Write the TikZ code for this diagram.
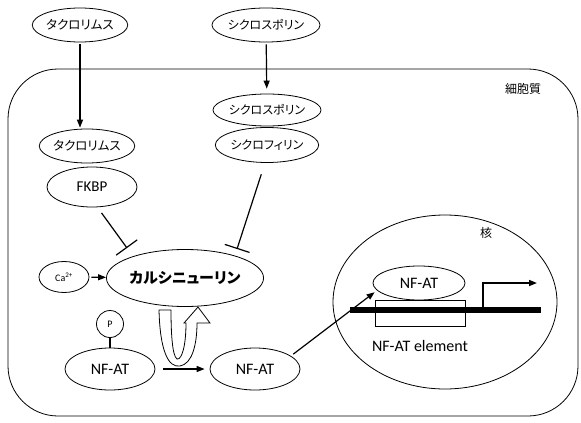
\documentclass[tikz,border=0pt]{standalone}
\usepackage{fontspec}
\setmainfont{Carlito}
\newfontfamily\jp[RawFeature=+palt]{Noto Sans CJK JP}
\usetikzlibrary{shapes.geometric,arrows.meta,positioning}

\begin{document}
\begin{tikzpicture}[x=1pt, y=-1pt,
    mol/.style={draw, ellipse, line width=0.8pt, inner sep=0pt, minimum width=90pt, minimum height=34pt},
    act/.style={line width=1.2pt, -{Triangle[length=8pt, width=6pt]}},
    inhibit/.style={line width=1.2pt, -{Bar[width=26pt, line width=1.2pt]}}]
  \useasboundingbox (0,0) rectangle (581,423);

  % cell and nucleus
  \draw[line width=0.8pt, rounded corners=50pt] (8,69) rectangle (578,416);
  \node at (523,89) {\jp\fontsize{12}{12}\selectfont 細胞質};
  \draw[line width=0.8pt] (445,302) ellipse [x radius=112, y radius=87];
  \node at (486,233) {\jp\fontsize{12}{12}\selectfont 核};

  % drugs outside the cell
  \node[mol, minimum width=86pt] (tacroOut) at (80,25) {\jp\fontsize{12.5}{12.5}\selectfont タクロリムス};
  \node[mol] (cycloOut) at (266,25) {\jp\fontsize{12}{12}\selectfont シクロスポリン};

  % drug-immunophilin complexes
  \node[mol, minimum width=86pt] (tacroIn) at (87,146) {\jp\fontsize{12.5}{12.5}\selectfont タクロリムス};
  \node[mol, minimum height=40pt] (fkbp) at (92,187) {\fontsize{15}{15}\selectfont FKBP};
  \node[mol, minimum height=32pt] (cycloIn) at (267,110) {\jp\fontsize{12}{12}\selectfont シクロスポリン};
  \node[mol, minimum height=35pt] (cyclophilin) at (267,145) {\jp\fontsize{12}{12}\selectfont シクロフィリン};

  \draw[act, shorten <=2pt, shorten >=1pt] (tacroOut.south) -- (tacroOut.south |- tacroIn.north);
  \draw[act, shorten <=2pt, shorten >=5pt] (cycloOut) -- (cycloIn);

  % calcineurin
  \node[mol, minimum width=134pt, minimum height=57pt] (calcineurin) at (185,278)
    {\jp\bfseries\fontsize{15}{15}\selectfont カルシニューリン};
  \node[mol, minimum width=50pt, minimum height=31pt] (calcium) at (64,277)
    {\fontsize{10}{10}\selectfont Ca\textsuperscript{2+}};
  \draw[act, shorten <=2pt] (calcium) -- (calcineurin);

  \coordinate (fkbpBar) at (127,248);
  \coordinate (cycloBar) at (237,249);
  \draw[inhibit, shorten <=7pt] (fkbp.-75) -- (fkbpBar);
  \draw[inhibit, shorten <=12pt] (cyclophilin.south) ++(-2,0) coordinate (cycloTail) -- (cycloBar);

  % dephosphorylation
  \node[mol, minimum height=42pt] (nfatP) at (110,369) {\fontsize{16}{16}\selectfont NF-AT};
  \node[draw, circle, line width=0.8pt, minimum size=27pt, inner sep=0pt] (phos) at (110,324)
    {\fontsize{10}{10}\selectfont P};
  \draw[line width=2pt] (phos) -- (nfatP);
  \node[mol, minimum height=42pt] (nfat) at (255,369) {\fontsize{16}{16}\selectfont NF-AT};
  \draw[act, shorten <=8pt, shorten >=5pt] (nfatP) -- (nfat);

  \draw[line width=0.8pt, fill=white]
    (159,310) .. controls (160,350) and (168,368) .. (180,366)
    .. controls (192,364) and (197,345) .. (197,323)
    -- (210,323) -- (198,307) -- (184,323) -- (186,323)
    .. controls (186,345) and (182,360) .. (177,359)
    .. controls (172,356) and (171,330) .. (171,310) -- cycle;

  % binding in the nucleus
  \node[mol, minimum width=92pt, minimum height=34pt] (nfatNuc) at (419,283) {\fontsize{16}{16}\selectfont NF-AT};
  \node[draw, line width=0.8pt, minimum width=90pt, minimum height=26pt, inner sep=0pt] (element) at (420,313) {};
  \draw[line width=6pt] (350,310) coordinate (dnaL) -- (541,310) coordinate (dnaR);
  \node at (420,346) {\fontsize{16}{16}\selectfont NF-AT element};
  \coordinate (tss) at (483,307);
  \draw[act, line width=1.6pt] (tss) |- (537,283);
  \draw[act, shorten <=3pt, shorten >=3pt] (nfat.20) -- (nfatNuc.190);
\end{tikzpicture}
\end{document}
